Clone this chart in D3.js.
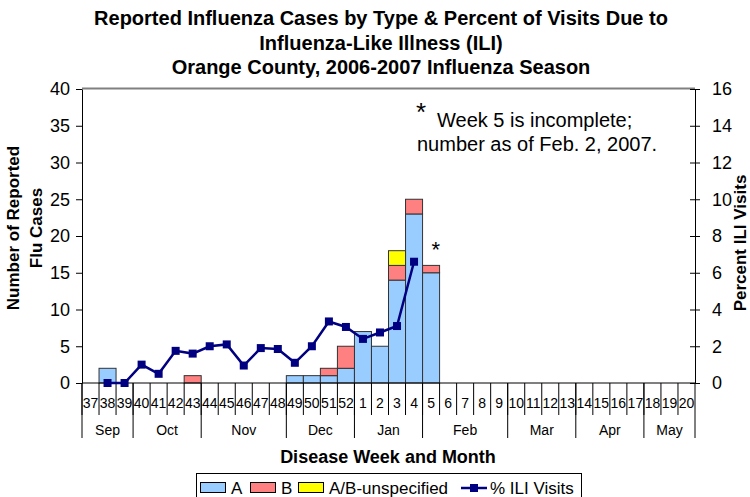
<!DOCTYPE html>
<html><head><meta charset="utf-8">
<script src="https://cdn.jsdelivr.net/npm/d3@7"></script>
<style>
body{margin:0;background:#fff}
svg{display:block;font-family:"Liberation Sans",Arial,Helvetica,sans-serif}
</style>
</head><body>
<svg id="chart" width="750" height="497"></svg>
<script>
// ---- data ----
const weeks = ["37","38","39","40","41","42","43","44","45","46","47","48","49","50","51","52",
  "1","2","3","4","5","6","7","8","9","10","11","12","13","14","15","16","17","18","19","20"];
const typeA  = [0,2,0,0,0,0,0,0,0,0,0,0,1,1,1,2,7,5,14,23,15,0,0,0,0,0,0,0,0,0,0,0,0,0,0,0];
const typeB  = [0,0,0,0,0,0,1,0,0,0,0,0,0,0,1,3,0,0,2,2,1,0,0,0,0,0,0,0,0,0,0,0,0,0,0,0];
const typeAB = [0,0,0,0,0,0,0,0,0,0,0,0,0,0,0,0,0,0,2,0,0,0,0,0,0,0,0,0,0,0,0,0,0,0,0,0];
const iliPct = [null,0,0,1.0,0.5,1.75,1.6,2.0,2.1,0.95,1.9,1.85,1.1,2.0,3.35,3.05,2.4,2.75,3.1,6.6,
  null,null,null,null,null,null,null,null,null,null,null,null,null,null,null,null];
const months = ["Sep","Oct","Nov","Dec","Jan","Feb","Mar","Apr","May"];
const monthWeekCounts = [3,4,5,4,4,5,4,4,3];
const leftTicks = [0,5,10,15,20,25,30,35,40];
const rightTicks = [0,2,4,6,8,10,12,14,16];
const seriesKeys = ["A","B","AB"];
const seriesNames = ["A","B","A/B-unspecified"];
const seriesColors = ["#99CCFF","#FF8080","#FFFF00"];
const lineName = "% ILI Visits";
const lineColor = "#000080";
const titleLines = ["Reported Influenza Cases by Type & Percent of Visits Due to",
  "Influenza-Like Illness (ILI)","Orange County, 2006-2007 Influenza Season"];

// ---- layout ----
const L = 82, R = 695, T = 89, B = 383;
const svg = d3.select("#chart");

const x = d3.scaleBand().domain(weeks).range([L, R]).padding(0);
const yL = d3.scaleLinear().domain([0, 40]).range([B, T]);
const yR = d3.scaleLinear().domain([0, 16]).range([B, T]);

// title
svg.append("g").selectAll("text").data(titleLines).join("text")
  .attr("x", 381).attr("y", (d, i) => 25 + i * 24.5)
  .attr("text-anchor", "middle").attr("font-weight", "bold").attr("font-size", 20)
  .text(d => d);

// top border
svg.append("line").attr("x1", L).attr("x2", R).attr("y1", T - 0.5).attr("y2", T - 0.5)
  .attr("stroke", "#808080").attr("stroke-width", 2);

// bars
const rows = weeks.map((w, i) => ({week: w, A: typeA[i], B: typeB[i], AB: typeAB[i]}));
const stacked = d3.stack().keys(seriesKeys)(rows);
svg.append("g").selectAll("g").data(stacked).join("g")
  .attr("fill", (d, i) => seriesColors[i])
  .selectAll("rect").data(d => d.filter(s => s[1] - s[0] > 0)).join("rect")
  .attr("x", d => x(d.data.week)).attr("width", x.bandwidth())
  .attr("y", d => yL(d[1])).attr("height", d => yL(d[0]) - yL(d[1]))
  .attr("stroke", "#333").attr("stroke-width", 1);

// left axis
const axL = svg.append("g").attr("transform", `translate(${L},0)`)
  .call(d3.axisLeft(yL).tickValues(leftTicks).tickSize(6).tickSizeOuter(0).tickPadding(6));
axL.select(".domain").attr("stroke", "#000");
axL.selectAll("text").attr("font-size", 18).attr("font-family", null).attr("fill", "#000");

// right axis
const axR = svg.append("g").attr("transform", `translate(${R},0)`)
  .call(d3.axisRight(yR).tickValues(rightTicks).tickSize(5).tickSizeOuter(0).tickPadding(12));
axR.select(".domain").attr("stroke", "#000");
axR.selectAll(".tick line").attr("x1", -5).attr("x2", 5);
axR.selectAll("text").attr("font-size", 18).attr("font-family", null).attr("fill", "#000");

// bottom axis line + week separators
const gx = svg.append("g");
gx.append("line").attr("x1", L).attr("x2", R).attr("y1", B).attr("y2", B).attr("stroke", "#000");
gx.selectAll("line.wk").data(weeks).join("line").attr("class", "wk")
  .attr("x1", d => x(d)).attr("x2", d => x(d)).attr("y1", B).attr("y2", 415).attr("stroke", "#000");
gx.selectAll("text.wk").data(weeks).join("text").attr("class", "wk")
  .attr("x", d => x(d) + x.bandwidth() / 2).attr("y", 408)
  .attr("text-anchor", "middle").attr("font-size", 14).text(d => d);

// month separators and labels
let acc = 0;
const monthSpans = months.map((m, i) => { const s = acc; acc += monthWeekCounts[i]; return {m, s, e: acc}; });
const edge = i => i >= weeks.length ? R : x(weeks[i]);
const bounds = [0].concat(monthSpans.map(d => d.e));
gx.selectAll("line.mo").data(bounds).join("line").attr("class", "mo")
  .attr("x1", d => edge(d)).attr("x2", d => edge(d)).attr("y1", B).attr("y2", 438).attr("stroke", "#000");
gx.selectAll("text.mo").data(monthSpans).join("text").attr("class", "mo")
  .attr("x", d => (edge(d.s) + edge(d.e)) / 2).attr("y", 435)
  .attr("text-anchor", "middle").attr("font-size", 14).text(d => d.m);

// ILI line
const pts = weeks.map((w, i) => ({w, v: iliPct[i]})).filter(d => d.v != null);
const line = d3.line().x(d => x(d.w) + x.bandwidth() / 2).y(d => yR(d.v));
svg.append("path").datum(pts).attr("d", line).attr("fill", "none")
  .attr("stroke", lineColor).attr("stroke-width", 2.5);
svg.append("g").selectAll("rect").data(pts).join("rect")
  .attr("x", d => x(d.w) + x.bandwidth() / 2 - 4).attr("y", d => yR(d.v) - 4)
  .attr("width", 8).attr("height", 8).attr("fill", lineColor);

// axis titles
svg.append("text").attr("transform", "translate(19,228) rotate(-90)")
  .attr("text-anchor", "middle").attr("font-weight", "bold").attr("font-size", 17).text("Number of Reported");
svg.append("text").attr("transform", "translate(42,228) rotate(-90)")
  .attr("text-anchor", "middle").attr("font-weight", "bold").attr("font-size", 17).text("Flu Cases");
svg.append("text").attr("transform", "translate(746,243) rotate(-90)")
  .attr("text-anchor", "middle").attr("font-weight", "bold").attr("font-size", 17).text("Percent ILI Visits");
svg.append("text").attr("x", 388).attr("y", 463)
  .attr("text-anchor", "middle").attr("font-weight", "bold").attr("font-size", 18).text("Disease Week and Month");

// annotations
svg.append("text").attr("x", 416).attr("y", 121).attr("font-size", 26).text("*");
svg.append("text").attr("x", 437).attr("y", 127).attr("font-size", 20).text("Week 5 is incomplete;");
svg.append("text").attr("x", 417).attr("y", 151).attr("font-size", 20).text("number as of Feb. 2, 2007.");
svg.append("text").attr("x", x("5") + 9).attr("y", 257).attr("font-size", 22).text("*");

// legend
const lg = svg.append("g");
lg.append("rect").attr("x", 196.5).attr("y", 473.5).attr("width", 385).attr("height", 30)
  .attr("fill", "#fff").attr("stroke", "#000");
const legendX = [200, 250, 298];
seriesNames.forEach((n, i) => {
  lg.append("rect").attr("x", legendX[i] + 0.5).attr("y", 482.5).attr("width", 25).attr("height", 10)
    .attr("fill", seriesColors[i]).attr("stroke", "#000");
  lg.append("text").attr("x", legendX[i] + 31).attr("y", 494).attr("font-size", 17).text(n);
});
lg.append("line").attr("x1", 461).attr("x2", 487).attr("y1", 488).attr("y2", 488)
  .attr("stroke", lineColor).attr("stroke-width", 2.5);
lg.append("rect").attr("x", 470).attr("y", 484).attr("width", 8).attr("height", 8).attr("fill", lineColor);
lg.append("text").attr("x", 490).attr("y", 494).attr("font-size", 17).text(lineName);
</script>
</body></html>
